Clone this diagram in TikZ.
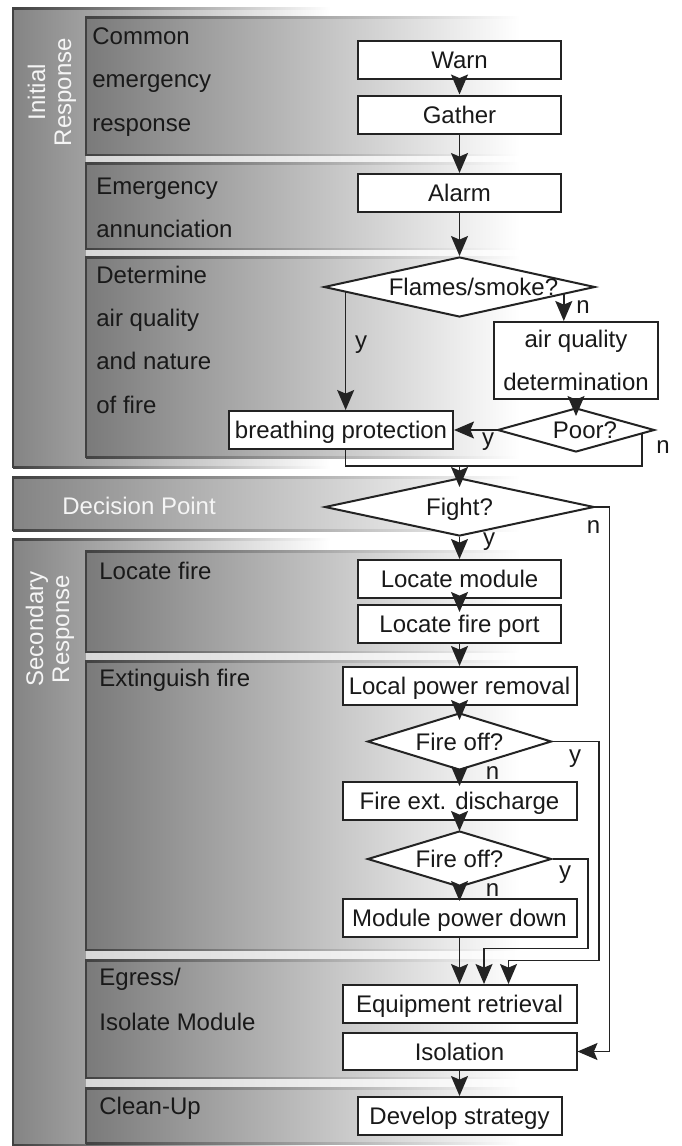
\documentclass[tikz,border=0pt]{standalone}
\usepackage{fontspec}
\setmainfont{Liberation Sans}
\usetikzlibrary{arrows.meta,shapes.geometric,calc}
\definecolor{txt}{RGB}{25,25,25}
\definecolor{ln}{RGB}{35,35,35}
\definecolor{bordc}{RGB}{65,65,65}
\definecolor{outerc}{RGB}{132,132,132}
\definecolor{innerc}{RGB}{122,122,122}
\definecolor{gapc}{RGB}{215,215,215}
\definecolor{wtxt}{RGB}{245,245,245}
\newcommand{\shadepanel}[5]{%
  \shade[left color=#5, right color=white] (#1,#2) rectangle (#4,#3);
  \shade[left color=bordc, right color=white] (#1,#2-1) rectangle (#4,#2+1);
  \shade[left color=bordc, right color=white] (#1,#3-1) rectangle (#4,#3+1);
  \fill[bordc] (#1-1,#2-1) rectangle (#1+1,#3+1);
}
\newcommand{\gapstrip}[2]{\shade[left color=gapc, right color=white] (86,#1) rectangle (520,#2);}
\newcommand{\dtext}[2]{\makebox[0pt]{\raisebox{-4.3pt}[0pt][0pt]{\hspace*{#1}#2}}}
\tikzset{
  every node/.style={font=\fontsize{12}{14}\selectfont},
  box/.style={draw=ln, line width=1pt, fill=white, rectangle, inner sep=0pt,
    minimum width=101.5pt, minimum height=19pt, text=txt, text height=8.6pt, text depth=0pt},
  widebox/.style={box, minimum width=117pt},
  dia/.style={draw=ln, line width=1pt, fill=white, diamond, inner sep=0pt, text=txt},
  arr/.style={draw=ln, line width=0.75pt, -{Stealth[length=10pt,width=8.5pt,inset=1.8pt]}},
  tipin/.style={shorten >=-#1},
  conn/.style={draw=ln, line width=0.75pt},
  lbl/.style={text=txt, inner sep=0pt},
  ptxt/.style={text=txt, inner sep=0pt, anchor=base west},
  wt/.style={text=wtxt, inner sep=0pt},
}
\begin{document}
\begin{tikzpicture}[x=0.5pt,y=-0.5pt]
\useasboundingbox (0,0) rectangle (681,1146);
% ---------- panels ----------
\shadepanel{13}{8}{467}{330}{outerc}
\shadepanel{13}{477}{530}{520}{outerc}
\shadepanel{13}{539}{1145}{330}{outerc}
\shadepanel{86}{17}{155}{520}{innerc}
\shadepanel{86}{163}{249}{520}{innerc}
\shadepanel{86}{257}{457}{520}{innerc}
\gapstrip{156.5}{161.5}
\gapstrip{250.5}{255.5}
\shadepanel{86}{551}{652}{520}{innerc}
\shadepanel{86}{661}{950}{520}{innerc}
\shadepanel{86}{960}{1078}{520}{innerc}
\shadepanel{86}{1088}{1143}{520}{innerc}
\gapstrip{653.5}{659.5}
\gapstrip{951.5}{958.5}
\gapstrip{1079.5}{1086.5}
% ---------- panel texts ----------
\node[wt, rotate=90, align=center, font=\fontsize{12}{13}\selectfont] (ir) at (52,92) {Initial\\Response};
\node[wt, rotate=90, align=center, font=\fontsize{12}{13}\selectfont] (sr) at (50,629) {Secondary\\Response};
\node[ptxt] (l1a) at (92,44) {Common};
\node[ptxt] (l1b) at (92,87.5) {emergency};
\node[ptxt] (l1c) at (92,131) {response};
\node[ptxt] (l2a) at (96,194) {Emergency};
\node[ptxt] (l2b) at (96,237) {annunciation};
\node[ptxt] (l3a) at (96,283) {Determine};
\node[ptxt] (l3b) at (96,326) {air quality};
\node[ptxt] (l3c) at (96,369.5) {and nature};
\node[ptxt] (l3d) at (96,413) {of fire};
\node[wt, anchor=base west] (dp) at (62,514) {Decision Point};
\node[ptxt] (l4) at (99,579) {Locate fire};
\node[ptxt] (l5) at (99,686) {Extinguish fire};
\node[ptxt] (l6a) at (99,985) {Egress/};
\node[ptxt] (l6b) at (99,1030) {Isolate Module};
\node[ptxt] (l7) at (99,1114) {Clean-Up};
% ---------- flow nodes ----------
\node[box] (warn) at (459.5,59.5) {Warn};
\node[box] (gather) at (459.5,114.5) {Gather};
\node[box] (alarm) at (459.5,193) {Alarm};
\node[dia, minimum width=135.5pt, minimum height=30pt] (flames) at (459.5,287) {\dtext{14pt}{Flames/smoke?}};
\node[draw=ln, line width=1pt, fill=white, inner sep=0pt, minimum width=82pt, minimum height=38.5pt,
  align=center, text=txt, font=\fontsize{12}{21.5}\selectfont] (aq) at (576,360.5) {air quality\\determination};
\node[dia, minimum width=78.5pt, minimum height=22pt] (poor) at (576,430) {\dtext{9pt}{Poor?}};
\node[box, minimum width=112pt] (bp) at (341,430) {breathing protection};
\node[dia, minimum width=134.7pt, minimum height=29pt] (fight) at (459.5,507) {\dtext{0pt}{Fight?}};
\node[box] (lm) at (459.5,579) {Locate module};
\node[box] (lfp) at (459.5,624) {Locate fire port};
\node[widebox] (lpr) at (459.5,686) {Local power removal};
\node[dia, minimum width=92pt, minimum height=28.5pt] (fo1) at (459.5,741.5) {\dtext{0pt}{Fire off?}};
\node[widebox] (fed) at (459.5,801) {Fire ext. discharge};
\node[dia, minimum width=92pt, minimum height=28pt] (fo2) at (459.5,859) {\dtext{0pt}{Fire off?}};
\node[widebox] (mpd) at (459.5,918) {Module power down};
\node[widebox] (er) at (459.5,1004) {Equipment retrieval};
\node[widebox, minimum height=18.5pt] (iso) at (459.5,1051.5) {Isolation};
\node[box, minimum width=102pt] (ds) at (459.5,1116) {Develop strategy};
% ---------- y/n labels ----------
\node[lbl] (yfl) at (361,345) {y};
\node[lbl] (nfl) at (583,306.7) {n};
\node[lbl] (ypo) at (488,441.7) {y};
\node[lbl] (npo) at (663,446.7) {n};
\node[lbl] (nfi) at (593.5,526.7) {n};
\node[lbl] (yfi) at (489,541.7) {y};
\node[lbl] (yf1) at (575,758.3) {y};
\node[lbl] (nf1) at (492.6,773.3) {n};
\node[lbl] (yf2) at (565,875) {y};
\node[lbl] (nf2) at (492.6,890) {n};
% ---------- helper coordinates ----------
\coordinate (fyc) at ($(flames.west)!0.166!(flames.south)$);
\coordinate (fnc) at ($(flames.east)!0.236!(flames.south)$);
\coordinate (pnc) at ($(poor.east)!0.172!(poor.south)$);
\coordinate (jn) at (459.5,466);
\coordinate (fr) at (609.5,507);
\coordinate (j1) at (599,960.5);
\coordinate (k1) at (508.5,960.5);
\coordinate (j2) at (588,948.5);
\coordinate (k2) at (484,948.5);
% ---------- connectors ----------
\draw[arr] (warn.south) -- (gather.north);
\draw[arr] (gather.south) -- (alarm.north);
\draw[arr] (alarm.south) -- (flames.north);
\draw[arr] (fnc) -- (fnc |- aq.north);
\draw[arr] (fyc) -- (fyc |- bp.north);
\draw[arr, tipin=4.5pt] (aq.south) -- (poor.north);
\draw[arr] (poor.west) -- (bp.east);
\draw[conn] (pnc) -- (pnc |- jn) -- (fyc |- jn) -- (fyc |- bp.south);
\draw[arr, tipin=5pt] (jn) -- (fight.north);
\draw[arr] (fight.south) -- (lm.north);
\draw[arr] (fight.east) -- (fr) |- (iso.east);
\draw[arr, tipin=4pt] (lm.south) -- (lfp.north);
\draw[arr] (lfp.south) -- (lpr.north);
\draw[arr, tipin=4pt] (lpr.south) -- (fo1.north);
\draw[arr, tipin=2.5pt] (fo1.south) -- (fed.north);
\draw[arr, tipin=0.5pt] (fed.south) -- (fo2.north);
\draw[arr, tipin=1.5pt] (fo2.south) -- (mpd.north);
\draw[arr] (mpd.south) -- (er.north);
\draw[arr] (fo1.east) -| (j1) -- (k1) -- (k1 |- er.north);
\draw[arr] (fo2.east) -| (j2) -- (k2) -- (k2 |- er.north);
\draw[arr] (iso.south) -- (ds.north);
\end{tikzpicture}
\end{document}
